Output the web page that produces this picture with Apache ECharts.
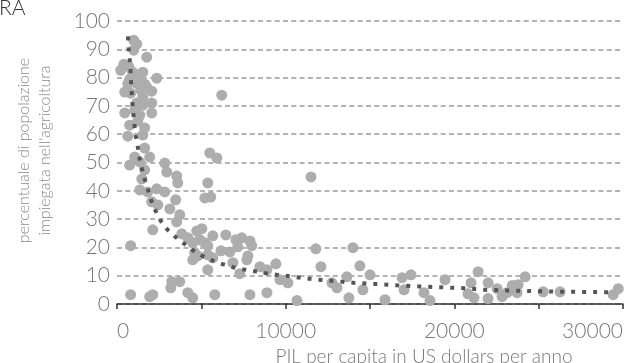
<!DOCTYPE html>
<html>
<head>
<meta charset="utf-8">
<script src="https://cdn.jsdelivr.net/npm/echarts@6/dist/echarts.min.js"></script>
<style>
  html, body { margin: 0; padding: 0; background: #fff; }
  #chart { width: 633px; height: 363px; }
</style>
</head>
<body>
<div id="chart"></div>
<script>
// GDP per capita (US$) of each country
const gdp = [
  990, 1170, 990, 1760, 400, 220, 690, 930, 1530, 750,
  1230, 2360, 640, 1170, 1640, 810, 1410, 2060, 1760, 1530,
  1530, 2060, 1170, 460, 1350, 2060, 1050, 1230, 750, 1640,
  640, 1530, 1640, 1050, 1940, 1350, 750, 2830, 2950, 1640,
  3540, 3600, 1470, 1350, 2360, 2830, 1820, 2060, 2420, 3130,
  3480, 3720, 3540, 2120, 810, 3840, 4200, 4730, 5030, 4910,
  5210, 4490, 4610, 4490, 4790, 5380, 5680, 5380, 5680, 6450,
  7050, 7400, 7880, 7990, 5380, 6160, 6690, 7160, 7760, 7700,
  6870, 7280, 8470, 8890, 9420, 9660, 10130, 10670, 3250, 3720,
  3190, 4200, 4490, 810, 1940, 2120, 5800, 7880, 8890, 5500,
  5920, 5380, 5210, 5560, 6210, 11500, 11790, 13990, 12090, 14400,
  13630, 15000, 12740, 13040, 14580, 13750, 15890, 16900, 17430, 17020,
  18200, 18560, 19450, 21410, 20990, 20810, 21170, 22000, 22000, 22540,
  22830, 23130, 23430, 23780, 23720, 24200, 25270, 26270, 29420, 29720,
  460
];

// share of the population working in agriculture (%) for the same countries
const agri = [
  93.2, 91.8, 89.7, 87.2, 84.7, 82.6, 84.0, 81.9, 81.9, 79.4,
  80.1, 79.8, 77.7, 78.0, 77.7, 74.5, 75.6, 75.2, 76.6, 73.1,
  70.3, 71.0, 71.0, 67.5, 66.7, 67.5, 68.5, 64.6, 63.2, 62.2,
  59.3, 59.7, 55.1, 51.9, 51.9, 50.2, 49.1, 49.8, 46.6, 47.4,
  45.2, 42.8, 44.2, 40.3, 40.7, 39.6, 39.6, 36.1, 35.0, 33.6,
  36.8, 31.5, 29.0, 26.2, 20.6, 24.8, 23.4, 25.8, 26.6, 22.7,
  21.6, 21.6, 18.1, 15.6, 17.0, 17.4, 16.3, 12.1, 24.1, 24.4,
  22.7, 23.4, 22.3, 20.6, 20.6, 18.8, 18.4, 20.2, 17.0, 15.6,
  14.6, 10.7, 13.2, 12.1, 14.2, 8.6, 7.5, 1.2, 7.9, 7.9,
  5.7, 4.0, 2.2, 3.3, 2.6, 3.3, 3.3, 3.3, 4.0, 53.4,
  51.6, 42.8, 37.5, 37.8, 73.8, 44.9, 19.5, 19.9, 13.2, 13.5,
  9.6, 10.3, 7.5, 5.7, 5.0, 2.2, 1.5, 9.3, 10.3, 5.0,
  4.0, 1.2, 8.6, 11.4, 7.5, 3.6, 2.2, 7.5, 1.9, 5.4,
  2.6, 4.0, 6.5, 6.8, 4.0, 9.6, 4.3, 4.3, 3.3, 5.4,
  74.9
];

// fitted trend curve
const trendGdp = [
  650, 690, 750, 800, 830, 870, 910, 970, 1030, 1110,
  1230, 1330, 1480, 1630, 1840, 2040, 2280, 2580, 2970, 3470,
  3960, 4490, 5050, 5640, 6260, 6890, 7520, 8170, 8810, 9460,
  10110, 11400, 12700, 14010, 15310, 16620, 17920, 19230, 20540, 21820,
  23150, 24450, 25760, 27060, 28370, 29200
];
const trendAgri = [
  94.6, 90.5, 86.5, 82.6, 78.7, 75.0, 71.1, 67.2, 63.3, 59.5,
  55.6, 51.7, 47.8, 44.3, 40.3, 36.4, 33.0, 29.5, 26.4, 23.7,
  21.4, 19.0, 17.0, 15.4, 14.1, 13.0, 12.2, 11.6, 10.9, 10.3,
  9.9, 8.9, 8.2, 7.5, 7.1, 6.6, 6.2, 5.9, 5.6, 5.0,
  4.8, 4.6, 4.4, 4.3, 4.2, 4.1
];

const FONT = 'Lato, "Open Sans", sans-serif';

const chart = echarts.init(document.getElementById('chart'), null, { renderer: 'canvas' });

chart.setOption({
  animation: false,
  backgroundColor: '#ffffff',
  title: {
    text: 'RA',
    left: -1,
    top: -2,
    padding: 0,
    textStyle: { fontFamily: FONT, fontWeight: 300, fontSize: 21, color: '#333333' }
  },
  grid: { left: 117, right: 10, top: 21, bottom: 59, containLabel: false, outerBoundsMode: 'none' },
  xAxis: {
    type: 'value',
    min: 0,
    max: 30000,
    interval: 5000,
    name: 'PIL per capita in US dollars per anno',
    nameLocation: 'middle',
    nameGap: 38,
    nameTextStyle: {
      fontFamily: FONT, fontWeight: 300, fontSize: 19, color: '#777777',
      padding: [0, 0, 0, 108]
    },
    axisLine: { show: true, lineStyle: { color: '#333333', width: 1.5 } },
    axisTick: { show: true, inside: false, length: 5, lineStyle: { color: '#333333', width: 1.5 } },
    axisLabel: {
      margin: 17,
      fontFamily: FONT, fontWeight: 300, fontSize: 21, color: '#777777',
      alignMinLabel: 'left',
      alignMaxLabel: 'right',
      formatter: v => (v % 10000 === 0 ? String(v) : '')
    },
    splitLine: { show: false }
  },
  yAxis: {
    type: 'value',
    min: 0,
    max: 100,
    interval: 10,
    name: 'percentuale di popolazione\nimpiegata nell\'agricoltura',
    nameLocation: 'middle',
    nameRotate: 90,
    nameGap: 62,
    nameTextStyle: {
      fontFamily: FONT, fontWeight: 300, fontSize: 16, color: '#888888', lineHeight: 21,
      padding: [0, 0, 0, 24]
    },
    axisLine: { show: false },
    axisTick: { show: false },
    axisLabel: {
      margin: 7,
      fontFamily: FONT, fontWeight: 300, fontSize: 21, color: '#777777'
    },
    splitLine: {
      show: true,
      lineStyle: { color: '#9a9a9a', width: 1.5, type: [5, 3.3] }
    }
  },
  series: [
    {
      name: 'paesi',
      type: 'scatter',
      symbol: 'circle',
      symbolSize: 11,
      clip: false,
      itemStyle: { color: '#adadad', opacity: 1 },
      data: gdp.map((x, i) => [x, agri[i]]),
      z: 2
    },
    {
      name: 'tendenza',
      type: 'line',
      showSymbol: false,
      symbol: 'none',
      smooth: false,
      lineStyle: { color: '#555555', width: 4, type: [4, 7], cap: 'butt' },
      data: trendGdp.map((x, i) => [x, trendAgri[i]]),
      z: 3
    }
  ]
});
</script>
</body>
</html>
